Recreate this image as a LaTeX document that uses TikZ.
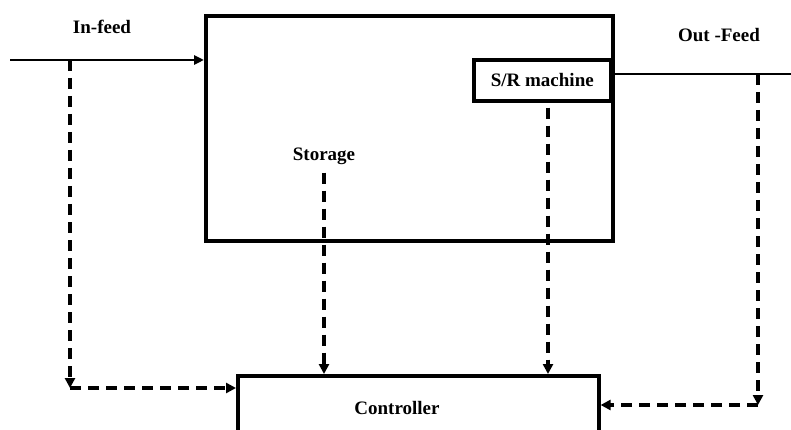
\documentclass[tikz,border=0pt]{standalone}
\usepackage{fontspec}
\setmainfont{Liberation Serif}
\usetikzlibrary{arrows.meta}
\tikzset{
  boxline/.style={draw, line width=3.6pt, inner sep=0pt},
  lbl/.style={font=\fontsize{19}{21}\selectfont\bfseries, inner sep=0pt},
  flow/.style={line width=2.6pt, -{Triangle[length=10pt,width=9pt]}},
  sig/.style={line width=3.2pt, dash pattern=on 11pt off 7pt, -{Triangle[length=10pt,width=10pt]}}
}
\begin{document}
\begin{tikzpicture}[x=1pt,y=-1pt]
\clip (0,0) rectangle (791,430);
\fill[white] (0,0) rectangle (791,430);
% boxes
\node[boxline, minimum width=407pt, minimum height=225pt, anchor=north west] (sys) at (204,14) {};
\node[boxline, lbl, minimum width=137pt, minimum height=41pt, anchor=north west] (sr) at (472,58) {S/R machine};
\node[boxline, minimum width=361pt, minimum height=80pt, anchor=north west] (ctrl) at (236,374) {};
% labels
\node[lbl] (ctrll) at (397,408) {Controller};
\node[lbl] (infl) at (102,27) {In-feed};
\node[lbl] (outfl) at (719,35) {Out -Feed};
\node[lbl] (stor) at (324,156) {Storage};
% coordinates
\coordinate (inL) at (10,60);
\coordinate (inT) at (70,60);
\coordinate (inC) at (70,388);
\coordinate (outR) at (791,74);
\coordinate (outT) at (758,74);
\coordinate (outC) at (758,405);
% flows
\draw[flow] (inL) -- (sys.west |- inL);
\draw[line width=2.6pt] (sys.east |- outR) -- (outR);
% signals
\draw[sig] (inT) -- (inC);
\draw[sig] (inC) -- (ctrl.west |- inC);
\draw[sig] (stor.south) ++(0,8) -- (stor.south |- ctrl.north);
\draw[sig] (sr.south -| 548,0) ++(0,5) -- (548,374);
\draw[sig] (outT) -- (outC);
\draw[sig] (outC) -- (ctrl.east |- outC);
\end{tikzpicture}
\end{document}
